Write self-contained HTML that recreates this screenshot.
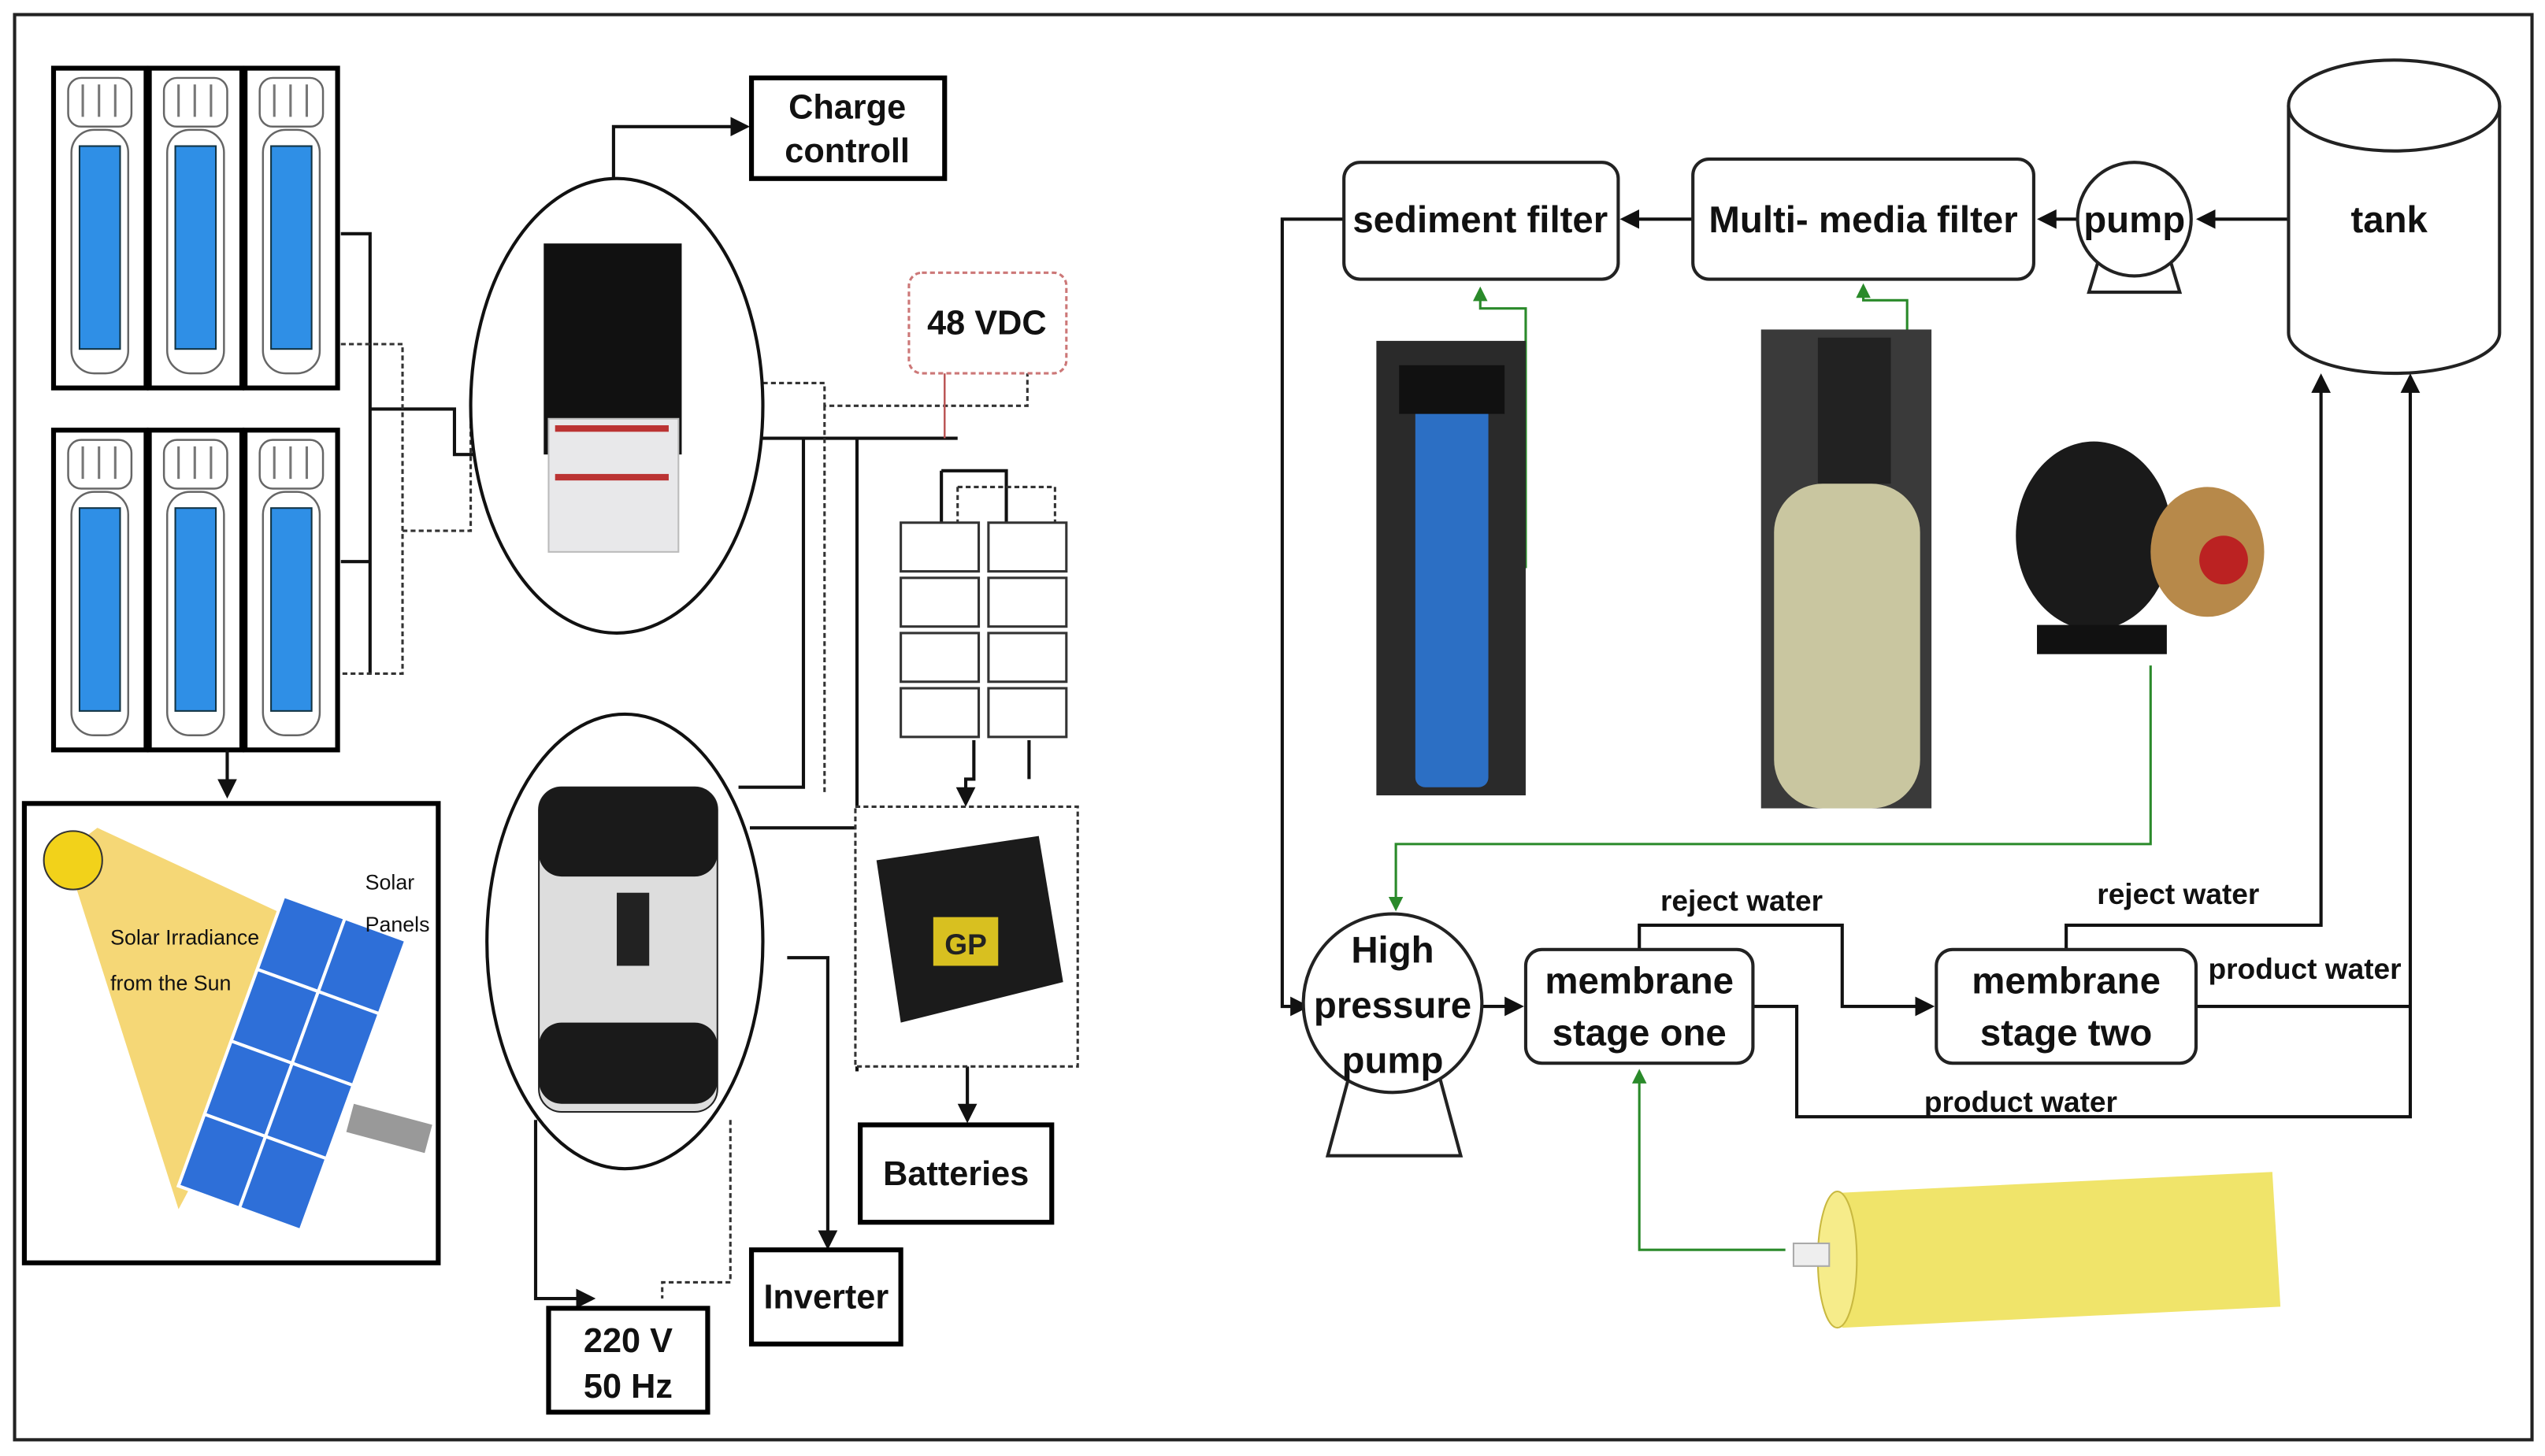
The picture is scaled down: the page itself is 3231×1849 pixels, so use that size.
<!DOCTYPE html>
<html><head><meta charset="utf-8"><style>
html,body{margin:0;padding:0;background:#fff;}
svg{display:block;}
text{font-family:"Liberation Sans",sans-serif;font-weight:bold;fill:#111;}
</style></head><body>
<svg width="3231" height="1849" viewBox="0 0 1568 897" preserveAspectRatio="none" xmlns="http://www.w3.org/2000/svg">
<defs>
<marker id="ar" markerWidth="6" markerHeight="6" refX="5" refY="3" orient="auto"><path d="M0,0 L6,3 L0,6 z" fill="#111"/></marker>
<marker id="ag" markerWidth="6" markerHeight="6" refX="5" refY="3" orient="auto"><path d="M0,0 L6,3 L0,6 z" fill="#2a8a2a"/></marker>
<g id="panel"><rect x="0" y="0" width="57" height="197" fill="#fff" stroke="#000" stroke-width="3"/>
<rect x="9" y="6" width="39" height="30" rx="8" fill="#fff" stroke="#666" stroke-width="1.2"/>
<path d="M18,10 V30 M28,10 V30 M38,10 V30" stroke="#777" stroke-width="1.5"/>
<rect x="11" y="38" width="35" height="150" rx="14" fill="none" stroke="#666" stroke-width="1.2"/>
<rect x="16" y="48" width="25" height="125" fill="#2f8fe6" stroke="#134" stroke-width="1"/></g>
</defs>
<rect x="0" y="0" width="1568" height="897" fill="#fff"/>
<rect x="9" y="9" width="1551" height="878" fill="none" stroke="#222" stroke-width="2"/>

<use href="#panel" x="33" y="42"/><use href="#panel" x="92" y="42"/><use href="#panel" x="151" y="42"/>
<use href="#panel" x="33" y="265"/><use href="#panel" x="92" y="265"/><use href="#panel" x="151" y="265"/>

<g stroke="#111" stroke-width="2" fill="none">
<path d="M210,144 H228 V415 M210,346 H228"/>
<path d="M228,252 H280 V280 H292"/>
<path d="M378,110 V78 H460" marker-end="url(#ar)"/>
<path d="M470,270 H560 M495,270 V485 H455 M528,270 V660 M590,270 H560"/>
<path d="M462,510 H528 M485,590 H510 V768" marker-end="url(#ar)"/>
<path d="M330,690 V800 H365" marker-end="url(#ar)"/>
<path d="M600,456 V480 H595 V495" marker-end="url(#ar)"/>
<path d="M634,456 V480"/>
<path d="M596,657 V690" marker-end="url(#ar)"/>
<path d="M140,462 V490" marker-end="url(#ar)"/>
<path d="M580,290 H620 V322 M580,290 V322"/>
</g>
<g stroke="#333" stroke-width="1.5" fill="none" stroke-dasharray="3,2">
<path d="M210,212 H248 V415 H210 M248,327 H290 V260"/>
<path d="M470,236 H508 V250 H633 V230 M508,250 V490"/>
<path d="M590,300 H650 V322 M590,300 V322"/>
<path d="M450,690 V790 H408 V800"/>
</g>
<path d="M582,230 V270" stroke="#b55" stroke-width="1.2"/>

<rect x="463" y="48" width="119" height="62" fill="#fff" stroke="#000" stroke-width="3"/>
<text x="522" y="73" font-size="21" text-anchor="middle">Charge</text>
<text x="522" y="100" font-size="21" text-anchor="middle">controll</text>

<ellipse cx="380" cy="250" rx="90" ry="140" fill="#fff" stroke="#111" stroke-width="2"/>
<rect x="335" y="150" width="85" height="130" fill="#111"/>
<rect x="338" y="258" width="80" height="82" fill="#e8e8ea" stroke="#bbb"/>
<rect x="342" y="262" width="70" height="4" fill="#b33"/>
<rect x="342" y="292" width="70" height="4" fill="#b33"/>

<rect x="560" y="168" width="97" height="62" rx="8" fill="#fff" stroke="#c77" stroke-width="1.5" stroke-dasharray="3,2"/>
<text x="608" y="206" font-size="21" text-anchor="middle">48 VDC</text>

<g fill="#fff" stroke="#333" stroke-width="1.5">
<rect x="555" y="322" width="48" height="30"/><rect x="555" y="356" width="48" height="30"/><rect x="555" y="390" width="48" height="30"/><rect x="555" y="424" width="48" height="30"/>
<rect x="609" y="322" width="48" height="30"/><rect x="609" y="356" width="48" height="30"/><rect x="609" y="390" width="48" height="30"/><rect x="609" y="424" width="48" height="30"/>
</g>

<rect x="527" y="497" width="137" height="160" fill="#fff" stroke="#333" stroke-width="1.5" stroke-dasharray="3,2"/>
<path d="M540,530 L640,515 L655,605 L555,630 z" fill="#1b1b1b"/>
<rect x="575" y="565" width="40" height="30" fill="#d8c020"/>
<text x="595" y="588" font-size="18" text-anchor="middle" style="fill:#222">GP</text>

<rect x="530" y="693" width="118" height="60" fill="#fff" stroke="#000" stroke-width="3"/>
<text x="589" y="730" font-size="21" text-anchor="middle">Batteries</text>

<ellipse cx="385" cy="580" rx="85" ry="140" fill="#fff" stroke="#111" stroke-width="2"/>
<rect x="332" y="485" width="110" height="200" rx="14" fill="#ddd" stroke="#222"/>
<rect x="332" y="485" width="110" height="55" rx="14" fill="#1a1a1a"/>
<rect x="332" y="630" width="110" height="50" rx="14" fill="#1a1a1a"/>
<rect x="380" y="550" width="20" height="45" fill="#222"/>

<rect x="463" y="770" width="92" height="58" fill="#fff" stroke="#000" stroke-width="3"/>
<text x="509" y="806" font-size="21" text-anchor="middle">Inverter</text>
<rect x="338" y="806" width="98" height="64" fill="#fff" stroke="#000" stroke-width="3"/>
<text x="387" y="833" font-size="21" text-anchor="middle">220 V</text>
<text x="387" y="861" font-size="21" text-anchor="middle">50 Hz</text>

<rect x="15" y="495" width="255" height="283" fill="#fff" stroke="#000" stroke-width="3"/>
<polygon points="40,525 60,510 200,575 110,745" fill="#f5d776"/>
<circle cx="45" cy="530" r="18" fill="#f2d21a" stroke="#333" stroke-width="1"/>
<rect x="218" y="680" width="50" height="18" fill="#999" transform="rotate(15 218 680)"/>
<g transform="rotate(20 180 655)"><rect x="140" y="560" width="80" height="190" fill="#2e6fd8" stroke="#fff" stroke-width="2"/>
<path d="M180,560 V750 M140,608 H220 M140,655 H220 M140,703 H220" stroke="#fff" stroke-width="2"/></g>
<text x="68" y="582" font-size="13" style="font-weight:normal">Solar Irradiance</text>
<text x="68" y="610" font-size="13" style="font-weight:normal">from the Sun</text>
<text x="225" y="548" font-size="13" style="font-weight:normal">Solar</text>
<text x="225" y="574" font-size="13" style="font-weight:normal">Panels</text>

<g stroke="#111" stroke-width="2" fill="none">
<path d="M1410,135 H1355" marker-end="url(#ar)"/>
<path d="M1280,135 H1257" marker-end="url(#ar)"/>
<path d="M1043,135 H1000" marker-end="url(#ar)"/>
<path d="M828,135 H790 V620 H805" marker-end="url(#ar)"/>
<path d="M913,620 H937" marker-end="url(#ar)"/>
<path d="M1010,585 V570 H1135 V620 H1190" marker-end="url(#ar)"/>
<path d="M1080,620 H1107 V688 H1485 V232" marker-end="url(#ar)"/>
<path d="M1273,585 V570 H1430 V232" marker-end="url(#ar)"/>
<path d="M1353,620 H1485"/>
</g>
<g stroke="#2a8a2a" stroke-width="1.5" fill="none">
<path d="M940,350 V190 H912 V178" marker-end="url(#ag)"/>
<path d="M1175,360 V185 H1148 V176" marker-end="url(#ag)"/>
<path d="M1325,410 V520 H860 V560" marker-end="url(#ag)"/>
<path d="M1100,770 H1010 V660" marker-end="url(#ag)"/>
</g>

<rect x="828" y="100" width="169" height="72" rx="10" fill="#fff" stroke="#222" stroke-width="2"/>
<text x="912" y="143" font-size="23" text-anchor="middle">sediment filter</text>
<rect x="1043" y="98" width="210" height="74" rx="10" fill="#fff" stroke="#222" stroke-width="2"/>
<text x="1148" y="143" font-size="23" text-anchor="middle">Multi- media filter</text>
<path d="M1293,160 L1287,180 H1343 L1337,160" fill="#fff" stroke="#222" stroke-width="2"/>
<circle cx="1315" cy="135" r="35" fill="#fff" stroke="#222" stroke-width="2"/>
<text x="1315" y="143" font-size="23" text-anchor="middle">pump</text>
<path d="M1410,65 V205 A65,25 0 0 0 1540,205 V65" fill="#fff" stroke="#222" stroke-width="2"/>
<ellipse cx="1475" cy="65" rx="65" ry="28" fill="#fff" stroke="#222" stroke-width="2"/>
<text x="1472" y="143" font-size="23" text-anchor="middle">tank</text>

<rect x="848" y="210" width="92" height="280" fill="#2a2a2a"/>
<rect x="872" y="240" width="45" height="245" rx="6" fill="#2c6fc4"/>
<rect x="862" y="225" width="65" height="30" fill="#111"/>
<rect x="1085" y="203" width="105" height="295" fill="#3a3a3a"/>
<rect x="1120" y="208" width="45" height="90" fill="#222"/>
<rect x="1093" y="298" width="90" height="200" rx="30" fill="#c9c6a0"/>
<ellipse cx="1290" cy="330" rx="48" ry="58" fill="#1a1a1a"/>
<ellipse cx="1360" cy="340" rx="35" ry="40" fill="#b7894a"/>
<circle cx="1370" cy="345" r="15" fill="#b22"/>
<rect x="1255" y="385" width="80" height="18" fill="#111"/>

<path d="M832,660 L818,712 H900 L886,660" fill="#fff" stroke="#222" stroke-width="2"/>
<circle cx="858" cy="618" r="55" fill="#fff" stroke="#222" stroke-width="2"/>
<text x="858" y="593" font-size="23" text-anchor="middle">High</text>
<text x="858" y="627" font-size="23" text-anchor="middle">pressure</text>
<text x="858" y="661" font-size="23" text-anchor="middle">pump</text>

<rect x="940" y="585" width="140" height="70" rx="10" fill="#fff" stroke="#222" stroke-width="2"/>
<text x="1010" y="612" font-size="23" text-anchor="middle">membrane</text>
<text x="1010" y="644" font-size="23" text-anchor="middle">stage one</text>
<rect x="1193" y="585" width="160" height="70" rx="10" fill="#fff" stroke="#222" stroke-width="2"/>
<text x="1273" y="612" font-size="23" text-anchor="middle">membrane</text>
<text x="1273" y="644" font-size="23" text-anchor="middle">stage two</text>

<text x="1073" y="561" font-size="18" text-anchor="middle">reject water</text>
<text x="1342" y="557" font-size="18" text-anchor="middle">reject water</text>
<text x="1420" y="603" font-size="18" text-anchor="middle">product water</text>
<text x="1245" y="685" font-size="18" text-anchor="middle">product water</text>

<path d="M1130,735 L1400,722 L1405,805 L1135,818 z" fill="#f0e46a"/>
<ellipse cx="1132" cy="776" rx="12" ry="42" fill="#f6ec8a" stroke="#c8b840"/>
<rect x="1105" y="766" width="22" height="14" fill="#eee" stroke="#aaa"/>
</svg>
</body></html>
